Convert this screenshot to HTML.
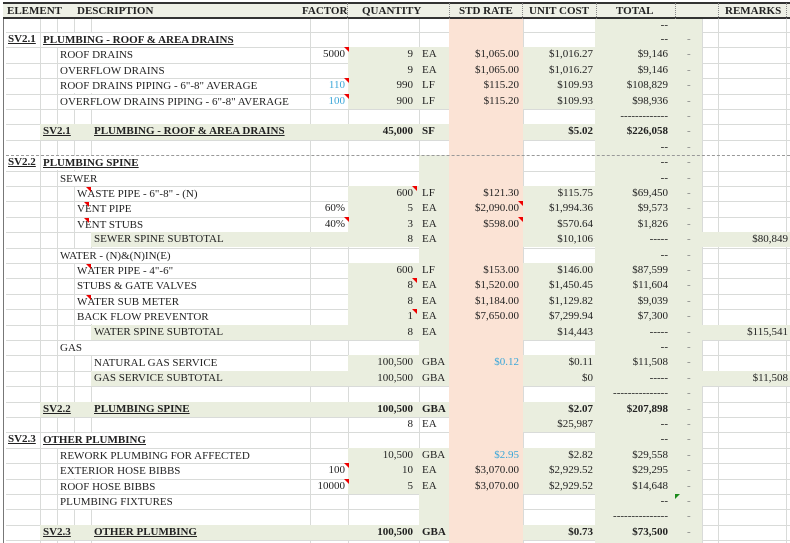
<!DOCTYPE html>
<html><head><meta charset="utf-8">
<style>
*{margin:0;padding:0;box-sizing:border-box}
body{width:790px;height:543px;overflow:hidden;background:#fff;position:relative;font-family:"Liberation Serif","Times New Roman",serif;font-size:11px;color:#222}
.f{position:absolute}
.gr{background:#eaeedf}
.sa{background:#fbe3d5}
.vl{position:absolute;top:19px;height:524px;width:1px;background:#d9dbd9}
.hl{position:absolute;left:6px;width:784px;height:1px;background:#d9dbd9}
.r{position:absolute;left:0;width:790px;height:15.4px;line-height:15.4px}
.r span{position:absolute;white-space:nowrap}
.a{left:8px}.b{left:43px}.c{left:60px}.d{left:77px}.e{left:94px}
.r span.w{background:#fff;right:481px;top:1px;bottom:0;line-height:14.4px}
.F{left:310px;width:35px;text-align:right}
.G{left:348px;width:65px;text-align:right}
.H{left:422px}
.I{left:449px;width:70px;text-align:right}
.J{left:523px;width:70px;text-align:right}
.K{left:595px;width:73px;text-align:right}
.L{left:687px;color:#888}
.N{left:718px;width:70px;text-align:right}
.bu{font-weight:bold;text-decoration:underline}
.bo{font-weight:bold}
.bl{color:#3aa6d8}
.m{position:relative;font-style:normal}
.m::after{content:"";position:absolute;right:-4px;top:-1px;border-top:5px solid #e00;border-left:5px solid transparent}
.hd{position:absolute;top:3px;height:16px;line-height:16px;font-weight:bold;white-space:nowrap}
.ds{position:absolute;top:3px;height:16px;border-left:1px dotted #888}
</style></head><body>
<div class="vl" style="left:40px"></div><div class="vl" style="left:57px"></div><div class="vl" style="left:74px"></div><div class="vl" style="left:91px"></div>
<div class="vl" style="left:310px"></div><div class="vl" style="left:348px"></div><div class="vl" style="left:419px"></div><div class="vl" style="left:523px"></div>
<div class="vl" style="left:595px"></div><div class="vl" style="left:702px"></div><div class="vl" style="left:718px"></div><div class="vl" style="left:786px"></div>
<div class="hl" style="top:31.9px"></div><div class="hl" style="top:47.3px"></div><div class="hl" style="top:62.7px"></div><div class="hl" style="top:78.1px"></div><div class="hl" style="top:93.5px"></div><div class="hl" style="top:108.9px"></div><div class="hl" style="top:124.3px"></div><div class="hl" style="top:139.7px"></div><div class="hl" style="top:170.5px"></div><div class="hl" style="top:185.9px"></div><div class="hl" style="top:201.3px"></div><div class="hl" style="top:216.7px"></div><div class="hl" style="top:232.1px"></div><div class="hl" style="top:247.5px"></div><div class="hl" style="top:262.9px"></div><div class="hl" style="top:278.3px"></div><div class="hl" style="top:293.7px"></div><div class="hl" style="top:309.1px"></div><div class="hl" style="top:324.5px"></div><div class="hl" style="top:339.9px"></div><div class="hl" style="top:355.3px"></div><div class="hl" style="top:370.7px"></div><div class="hl" style="top:386.1px"></div><div class="hl" style="top:401.5px"></div><div class="hl" style="top:416.9px"></div><div class="hl" style="top:432.3px"></div><div class="hl" style="top:447.7px"></div><div class="hl" style="top:463.1px"></div><div class="hl" style="top:478.5px"></div><div class="hl" style="top:493.9px"></div><div class="hl" style="top:509.3px"></div><div class="hl" style="top:524.7px"></div><div class="hl" style="top:540.1px"></div>
<div class="f sa" style="left:449px;width:74px;top:19px;height:524px"></div>
<div class="f gr" style="left:595px;width:107px;top:19px;height:524px"></div>
<div class="f gr" style="left:348px;width:101px;top:47.3px;height:61.6px"></div>
<div class="f gr" style="left:523px;width:72px;top:47.3px;height:61.6px"></div>
<div class="f gr" style="left:419px;width:30px;top:155.1px;height:231px"></div>
<div class="f gr" style="left:348px;width:71px;top:185.9px;height:61.6px"></div>
<div class="f gr" style="left:523px;width:72px;top:185.9px;height:61.6px"></div>
<div class="f gr" style="left:348px;width:71px;top:262.9px;height:77px"></div>
<div class="f gr" style="left:523px;width:72px;top:262.9px;height:77px"></div>
<div class="f gr" style="left:348px;width:71px;top:355.3px;height:30.8px"></div>
<div class="f gr" style="left:523px;width:72px;top:355.3px;height:30.8px"></div>
<div class="f gr" style="left:523px;width:72px;top:416.9px;height:15.4px"></div>
<div class="f gr" style="left:419px;width:30px;top:447.7px;height:92.4px"></div>
<div class="f gr" style="left:348px;width:71px;top:447.7px;height:46.2px"></div>
<div class="f gr" style="left:523px;width:72px;top:447.7px;height:46.2px"></div>
<div class="f gr" style="left:40px;width:409px;top:124.3px;height:15.4px"></div>
<div class="f gr" style="left:523px;width:72px;top:124.3px;height:15.4px"></div>
<div class="f gr" style="left:40px;width:409px;top:401.5px;height:15.4px"></div>
<div class="f gr" style="left:523px;width:72px;top:401.5px;height:15.4px"></div>
<div class="f gr" style="left:40px;width:409px;top:524.7px;height:15.4px"></div>
<div class="f gr" style="left:523px;width:72px;top:524.7px;height:15.4px"></div>
<div class="f gr" style="left:91px;width:358px;top:232.1px;height:15.4px"></div>
<div class="f gr" style="left:523px;width:267px;top:232.1px;height:15.4px"></div>
<div class="f gr" style="left:91px;width:358px;top:324.5px;height:15.4px"></div>
<div class="f gr" style="left:523px;width:267px;top:324.5px;height:15.4px"></div>
<div class="f gr" style="left:91px;width:358px;top:370.7px;height:15.4px"></div>
<div class="f gr" style="left:523px;width:267px;top:370.7px;height:15.4px"></div>
<div class="f" style="left:6px;width:784px;top:155px;border-top:1px dashed #999"></div>
<div class="f" style="left:3px;top:2px;width:1px;height:541px;background:#777"></div>
<div class="f" style="left:3px;top:2px;width:787px;height:17px;background:#eef0e6;border-top:2px solid #333;border-bottom:2px solid #333"></div>
<div class="ds" style="left:347px"></div><div class="ds" style="left:449px"></div><div class="ds" style="left:522px"></div><div class="ds" style="left:596px"></div><div class="ds" style="left:675px"></div><div class="ds" style="left:718px"></div><div class="ds" style="left:786px"></div>
<div class="hd" style="left:7px">ELEMENT</div>
<div class="hd" style="left:77px">DESCRIPTION</div>
<div class="hd" style="left:302px">FACTOR</div>
<div class="hd" style="left:362px">QUANTITY</div>
<div class="hd" style="left:459px">STD RATE</div>
<div class="hd" style="left:529px">UNIT COST</div>
<div class="hd" style="left:616px">TOTAL</div>
<div class="hd" style="left:725px">REMARKS</div>
<div class="r" style="top:18px"><span class="K">--</span></div>
<div class="r" style="top:31.9px"><span class="a bu">SV2.1</span><span class="b bu w">PLUMBING - ROOF &amp; AREA DRAINS</span><span class="K">--</span><span class="L">-</span></div>
<div class="r" style="top:47.3px"><span class="c w">ROOF DRAINS</span><span class="F"><i class="m">5000</i></span><span class="G">9</span><span class="H">EA</span><span class="I">$1,065.00</span><span class="J">$1,016.27</span><span class="K">$9,146</span><span class="L">-</span></div>
<div class="r" style="top:62.7px"><span class="c w">OVERFLOW DRAINS</span><span class="G">9</span><span class="H">EA</span><span class="I">$1,065.00</span><span class="J">$1,016.27</span><span class="K">$9,146</span><span class="L">-</span></div>
<div class="r" style="top:78.1px"><span class="c w">ROOF DRAINS PIPING - 6"-8" AVERAGE</span><span class="F bl"><i class="m">110</i></span><span class="G">990</span><span class="H">LF</span><span class="I">$115.20</span><span class="J">$109.93</span><span class="K">$108,829</span><span class="L">-</span></div>
<div class="r" style="top:93.5px"><span class="c w">OVERFLOW DRAINS PIPING - 6"-8" AVERAGE</span><span class="F bl"><i class="m">100</i></span><span class="G">900</span><span class="H">LF</span><span class="I">$115.20</span><span class="J">$109.93</span><span class="K">$98,936</span><span class="L">-</span></div>
<div class="r" style="top:108.9px"><span class="K">-------------</span><span class="L">-</span></div>
<div class="r" style="top:124.3px"><span class="b bu">SV2.1</span><span class="e bu">PLUMBING - ROOF &amp; AREA DRAINS</span><span class="G bo">45,000</span><span class="H bo">SF</span><span class="J bo">$5.02</span><span class="K bo">$226,058</span><span class="L">-</span></div>
<div class="r" style="top:139.7px"><span class="K">--</span><span class="L">-</span></div>
<div class="r" style="top:155.1px"><span class="a bu">SV2.2</span><span class="b bu w">PLUMBING SPINE</span><span class="K">--</span><span class="L">-</span></div>
<div class="r" style="top:170.5px"><span class="c w">SEWER</span><span class="K">--</span><span class="L">-</span></div>
<div class="r" style="top:185.9px"><span class="d w">W<i class="m"></i>ASTE PIPE - 6"-8" - (N)</span><span class="G"><i class="m">600</i></span><span class="H">LF</span><span class="I">$121.30</span><span class="J">$115.75</span><span class="K">$69,450</span><span class="L">-</span></div>
<div class="r" style="top:201.3px"><span class="d w">V<i class="m"></i>ENT PIPE</span><span class="F">60%</span><span class="G">5</span><span class="H">EA</span><span class="I"><i class="m">$2,090.00</i></span><span class="J">$1,994.36</span><span class="K">$9,573</span><span class="L">-</span></div>
<div class="r" style="top:216.7px"><span class="d w">V<i class="m"></i>ENT STUBS</span><span class="F"><i class="m">40%</i></span><span class="G">3</span><span class="H">EA</span><span class="I"><i class="m">$598.00</i></span><span class="J">$570.64</span><span class="K">$1,826</span><span class="L">-</span></div>
<div class="r" style="top:232.1px"><span class="e">SEWER SPINE SUBTOTAL</span><span class="G">8</span><span class="H">EA</span><span class="J">$10,106</span><span class="K">-----</span><span class="L">-</span><span class="N">$80,849</span></div>
<div class="r" style="top:247.5px"><span class="c w">WATER - (N)&amp;(N)IN(E)</span><span class="K">--</span><span class="L">-</span></div>
<div class="r" style="top:262.9px"><span class="d w">W<i class="m"></i>ATER PIPE - 4"-6"</span><span class="G">600</span><span class="H">LF</span><span class="I">$153.00</span><span class="J">$146.00</span><span class="K">$87,599</span><span class="L">-</span></div>
<div class="r" style="top:278.3px"><span class="d w">STUBS &amp; GATE VALVES</span><span class="G"><i class="m">8</i></span><span class="H">EA</span><span class="I">$1,520.00</span><span class="J">$1,450.45</span><span class="K">$11,604</span><span class="L">-</span></div>
<div class="r" style="top:293.7px"><span class="d w">W<i class="m"></i>ATER SUB METER</span><span class="G">8</span><span class="H">EA</span><span class="I">$1,184.00</span><span class="J">$1,129.82</span><span class="K">$9,039</span><span class="L">-</span></div>
<div class="r" style="top:309.1px"><span class="d w">BACK FLOW PREVENTOR</span><span class="G"><i class="m">1</i></span><span class="H">EA</span><span class="I">$7,650.00</span><span class="J">$7,299.94</span><span class="K">$7,300</span><span class="L">-</span></div>
<div class="r" style="top:324.5px"><span class="e">WATER SPINE SUBTOTAL</span><span class="G">8</span><span class="H">EA</span><span class="J">$14,443</span><span class="K">-----</span><span class="L">-</span><span class="N">$115,541</span></div>
<div class="r" style="top:339.9px"><span class="c w">GAS</span><span class="K">--</span><span class="L">-</span></div>
<div class="r" style="top:355.3px"><span class="e w">NATURAL GAS SERVICE</span><span class="G">100,500</span><span class="H">GBA</span><span class="I bl">$0.12</span><span class="J">$0.11</span><span class="K">$11,508</span><span class="L">-</span></div>
<div class="r" style="top:370.7px"><span class="e">GAS SERVICE SUBTOTAL</span><span class="G">100,500</span><span class="H">GBA</span><span class="J">$0</span><span class="K">-----</span><span class="L">-</span><span class="N">$11,508</span></div>
<div class="r" style="top:386.1px"><span class="K">---------------</span><span class="L">-</span></div>
<div class="r" style="top:401.5px"><span class="b bu">SV2.2</span><span class="e bu">PLUMBING SPINE</span><span class="G bo">100,500</span><span class="H bo">GBA</span><span class="J bo">$2.07</span><span class="K bo">$207,898</span><span class="L">-</span></div>
<div class="r" style="top:416.9px"><span class="G">8</span><span class="H">EA</span><span class="J">$25,987</span><span class="K">--</span><span class="L">-</span></div>
<div class="r" style="top:432.3px"><span class="a bu">SV2.3</span><span class="b bu w">OTHER PLUMBING</span><span class="K">--</span><span class="L">-</span></div>
<div class="r" style="top:447.7px"><span class="c w">REWORK PLUMBING FOR AFFECTED</span><span class="G">10,500</span><span class="H">GBA</span><span class="I bl">$2.95</span><span class="J">$2.82</span><span class="K">$29,558</span><span class="L">-</span></div>
<div class="r" style="top:463.1px"><span class="c w">EXTERIOR HOSE BIBBS</span><span class="F"><i class="m">100</i></span><span class="G">10</span><span class="H">EA</span><span class="I">$3,070.00</span><span class="J">$2,929.52</span><span class="K">$29,295</span><span class="L">-</span></div>
<div class="r" style="top:478.5px"><span class="c w">ROOF HOSE BIBBS</span><span class="F"><i class="m">10000</i></span><span class="G">5</span><span class="H">EA</span><span class="I">$3,070.00</span><span class="J">$2,929.52</span><span class="K">$14,648</span><span class="L">-</span></div>
<div class="r" style="top:493.9px"><span class="c w">PLUMBING FIXTURES</span><span class="K">--</span><span class="L">-</span></div>
<div class="f" style="left:675px;top:494px;border-top:5px solid #1a8a1a;border-right:5px solid transparent"></div>
<div class="r" style="top:509.3px"><span class="K">---------------</span><span class="L">-</span></div>
<div class="r" style="top:524.7px"><span class="b bu">SV2.3</span><span class="e bu">OTHER PLUMBING</span><span class="G bo">100,500</span><span class="H bo">GBA</span><span class="J bo">$0.73</span><span class="K bo">$73,500</span><span class="L">-</span></div>
</body></html>
